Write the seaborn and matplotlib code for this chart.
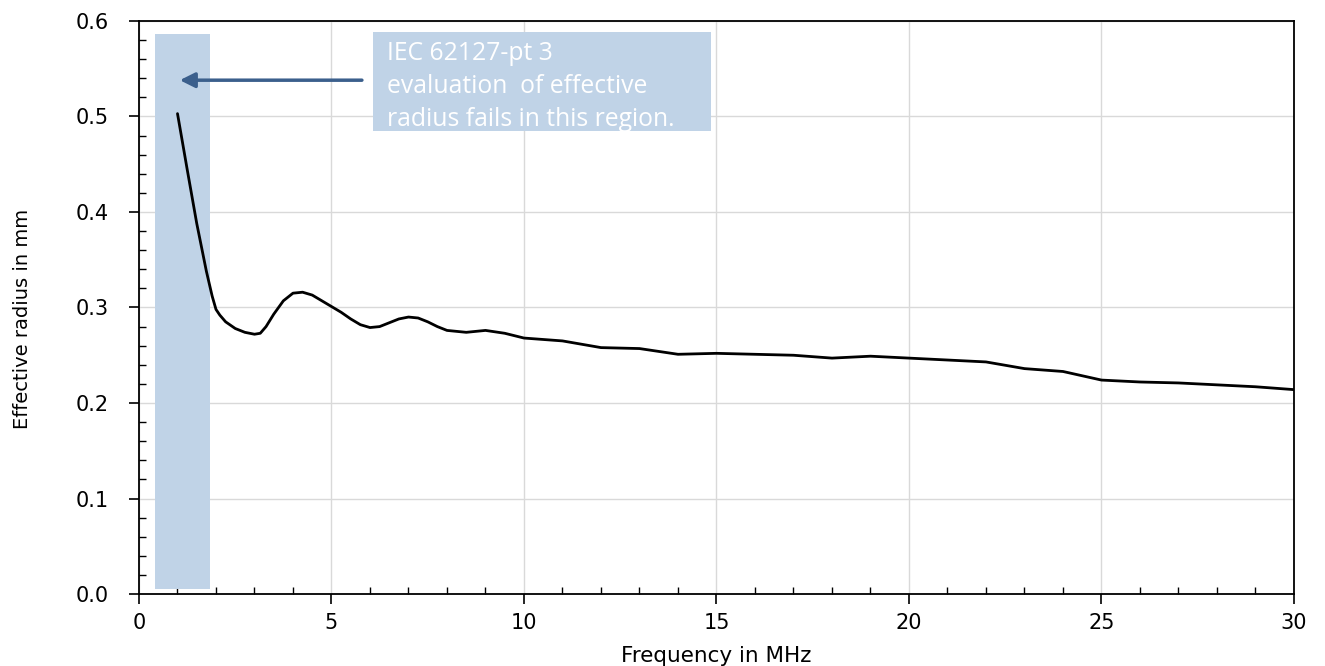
import matplotlib
matplotlib.use("Agg")
import matplotlib.pyplot as plt
from matplotlib.ticker import MultipleLocator
import seaborn as sns
import pandas as pd

freq_mhz = [1.0, 1.25, 1.5, 1.75, 1.9, 2.0, 2.1, 2.25, 2.5, 2.75, 3.0, 3.15,
            3.3, 3.5, 3.75, 4.0, 4.25, 4.5, 4.75, 5.0, 5.25, 5.5, 5.75, 6.0,
            6.25, 6.5, 6.75, 7.0, 7.25, 7.5, 7.75, 8.0, 8.5, 9.0, 9.5, 10,
            11, 12, 13, 14, 15, 16, 17, 18, 19, 20, 21, 22, 23, 24, 25, 26,
            27, 28, 29, 30]
radius_mm = [0.503, 0.445, 0.388, 0.338, 0.312, 0.298, 0.292, 0.285, 0.278,
             0.274, 0.272, 0.273, 0.280, 0.293, 0.307, 0.315, 0.316, 0.313,
             0.307, 0.301, 0.295, 0.288, 0.282, 0.279, 0.280, 0.284, 0.288,
             0.290, 0.289, 0.285, 0.280, 0.276, 0.274, 0.276, 0.273, 0.268,
             0.265, 0.258, 0.257, 0.251, 0.252, 0.251, 0.250, 0.247, 0.249,
             0.247, 0.245, 0.243, 0.236, 0.233, 0.224, 0.222, 0.221, 0.219,
             0.217, 0.214]

x_ticks = [0, 5, 10, 15, 20, 25, 30]
y_ticks = [0.0, 0.1, 0.2, 0.3, 0.4, 0.5, 0.6]
note_text = "IEC 62127-pt 3\nevaluation  of effective\nradius fails in this region."

df = pd.DataFrame({"Frequency in MHz": freq_mhz, "Effective radius in mm": radius_mm})

sns.set_style("white")
plt.rcParams['font.family'] = ['DejaVu Sans']

fig = plt.figure(figsize=(13.25, 6.66), dpi=100)
ax = fig.add_axes([0.1049, 0.1081, 0.8717, 0.8604])

shade = "#c0d3e7"
ax.axvspan(0.42, 1.84, ymin=0.009, ymax=0.978, color=shade, lw=0, zorder=1)

sns.lineplot(data=df, x="Frequency in MHz", y="Effective radius in mm",
             color="black", lw=2.0, ax=ax, zorder=3)

ax.set_xlim(0, 30)
ax.set_ylim(0, 0.6)
ax.set_xticks(x_ticks)
ax.set_yticks(y_ticks)
ax.set_xticklabels([str(t) for t in x_ticks], fontsize=15)
ax.set_yticklabels([f"{t:.1f}" for t in y_ticks], fontsize=15)
ax.xaxis.set_minor_locator(MultipleLocator(1))
ax.yaxis.set_minor_locator(MultipleLocator(0.02))
ax.tick_params(which="both", bottom=True, left=True, top=False, right=False)
ax.tick_params(which="major", direction="out", length=7, width=1.2,
               color="black", labelcolor="black")
ax.tick_params(axis="x", which="major", pad=7)
ax.tick_params(axis="y", which="major", pad=15)
ax.tick_params(which="minor", direction="in", length=5, width=1.0, color="black")
ax.grid(True, which="major", color="#d9d9d9", lw=1.0, zorder=0)
ax.set_axisbelow(True)
for s in ax.spines.values():
    s.set_visible(True)
    s.set_color("black")
    s.set_linewidth(1.3)

ax.set_xlabel("Frequency in MHz", fontsize=15.5, labelpad=9, color="black")
ax.set_ylabel("Effective radius in mm", fontsize=14, color="black")
ax.yaxis.set_label_coords(-0.093, 0.48)

# annotation box
ax.fill_between([6.08, 14.86], 0.485, 0.588, color=shade, lw=0, zorder=2)
ax.text(6.45, 0.579, note_text, fontsize=17.8, color="white", va="top", ha="left",
        linespacing=1.42, family=["Open Sans", "DejaVu Sans"], zorder=4)
ax.annotate("", xy=(1.06, 0.538), xytext=(5.79, 0.538),
            arrowprops=dict(arrowstyle="-|>,head_length=0.9,head_width=0.45",
                            color="#3b5f8c", lw=2.5, shrinkA=0, shrinkB=0), zorder=4)

fig.savefig("out.png", dpi=100)
